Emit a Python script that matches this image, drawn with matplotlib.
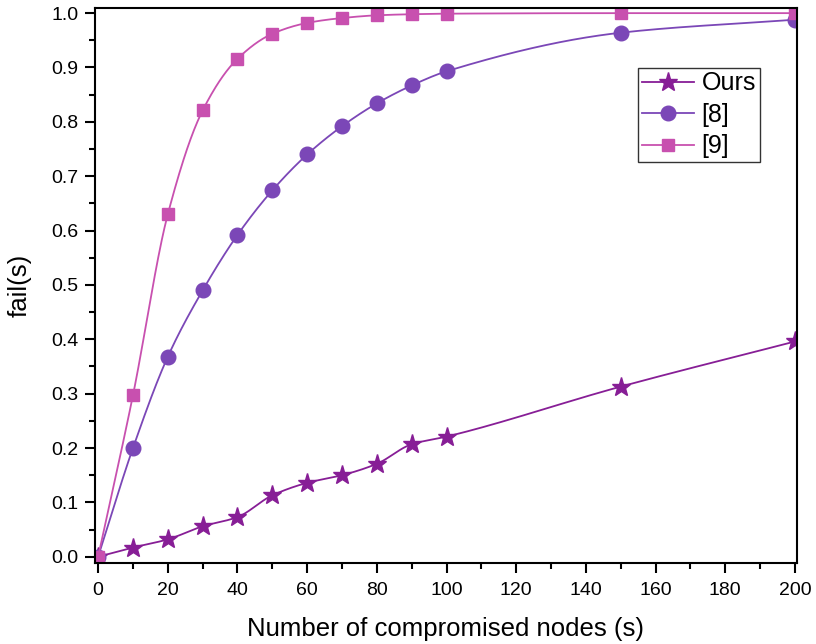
import numpy as np
import matplotlib
matplotlib.use('Agg')
import matplotlib.pyplot as plt
from matplotlib.ticker import MultipleLocator

plt.rcParams['font.family'] = ['Liberation Sans', 'DejaVu Sans']

nodes = [0, 10, 20, 30, 40, 50, 60, 70, 80, 90, 100, 150, 200]
ours = [0.0, 0.017, 0.032, 0.056, 0.073, 0.113, 0.136, 0.150, 0.171, 0.207, 0.221, 0.313, 0.396]
ref8 = [0.0, 0.200, 0.368, 0.490, 0.592, 0.674, 0.740, 0.792, 0.834, 0.867, 0.893, 0.964, 0.988]
ref9 = [0.0, 0.297, 0.630, 0.821, 0.916, 0.962, 0.982, 0.991, 0.996, 0.998, 0.999, 1.0, 1.0]

series = [('Ours', ours, '#871E96', '*', 14),
          ('[8]', ref8, '#7B47B7', 'o', 10.5),
          ('[9]', ref9, '#C850AF', 's', 9)]


def pchip(x, y, xs):
    # monotone cubic, only used to draw the smooth line through the points
    x = np.asarray(x, float)
    y = np.asarray(y, float)
    h = np.diff(x)
    d = np.diff(y) / h
    m = np.zeros_like(y)
    for k in range(1, len(x) - 1):
        if d[k - 1] * d[k] > 0:
            w1 = 2 * h[k] + h[k - 1]
            w2 = h[k] + 2 * h[k - 1]
            m[k] = (w1 + w2) / (w1 / d[k - 1] + w2 / d[k])
    m[0] = d[0]
    m[-1] = d[-1]
    idx = np.clip(np.searchsorted(x, xs) - 1, 0, len(x) - 2)
    t = (xs - x[idx]) / h[idx]
    h00 = 2 * t**3 - 3 * t**2 + 1
    h10 = t**3 - 2 * t**2 + t
    h01 = -2 * t**3 + 3 * t**2
    h11 = t**3 - t**2
    return h00 * y[idx] + h10 * h[idx] * m[idx] + h01 * y[idx + 1] + h11 * h[idx] * m[idx + 1]


fig = plt.figure(figsize=(8.16, 6.44), dpi=100)
ax = fig.add_axes([0.1164, 0.1262, 0.8600, 0.8610])

xs = np.linspace(0, 200, 800)
handles = []
for name, vals, col, mk, ms in series:
    ax.plot(xs, pchip(nodes, vals, xs), color=col, lw=1.3)
    ax.plot(nodes, vals, linestyle='none', marker=mk, ms=ms, color=col, mec=col)
    h, = ax.plot([], [], color=col, lw=1.3, marker=mk, ms=ms, mec=col, label=name)
    handles.append(h)

ax.set_xlim(-0.9, 200.5)
ax.set_ylim(-0.011, 1.009)
ax.xaxis.set_major_locator(MultipleLocator(20))
ax.xaxis.set_minor_locator(MultipleLocator(10))
ax.yaxis.set_major_locator(MultipleLocator(0.1))
ax.yaxis.set_minor_locator(MultipleLocator(0.05))
ax.yaxis.set_major_formatter(plt.FuncFormatter(lambda v, p: '%.1f' % v))
ax.tick_params(which='major', direction='out', length=7, width=1.5, labelsize=14, pad=5)
ax.tick_params(axis='x', which='major', pad=7)
ax.tick_params(which='minor', direction='out', length=4, width=1.5)
for s in ax.spines.values():
    s.set_linewidth(1.5)

ax.set_xlabel('Number of compromised nodes (s)', fontsize=18.5, labelpad=13)
ax.set_ylabel('fail(s)', fontsize=18.5, labelpad=14)

leg = ax.legend(handles=handles, loc='upper left', bbox_to_anchor=(0.7735, 0.893),
                fontsize=18, frameon=True, fancybox=False, edgecolor='black',
                handlelength=2.1, handletextpad=0.3, borderpad=0.15,
                labelspacing=0.3, borderaxespad=0)
leg.get_frame().set_linewidth(1.0)

fig.savefig('out.png', dpi=100)
